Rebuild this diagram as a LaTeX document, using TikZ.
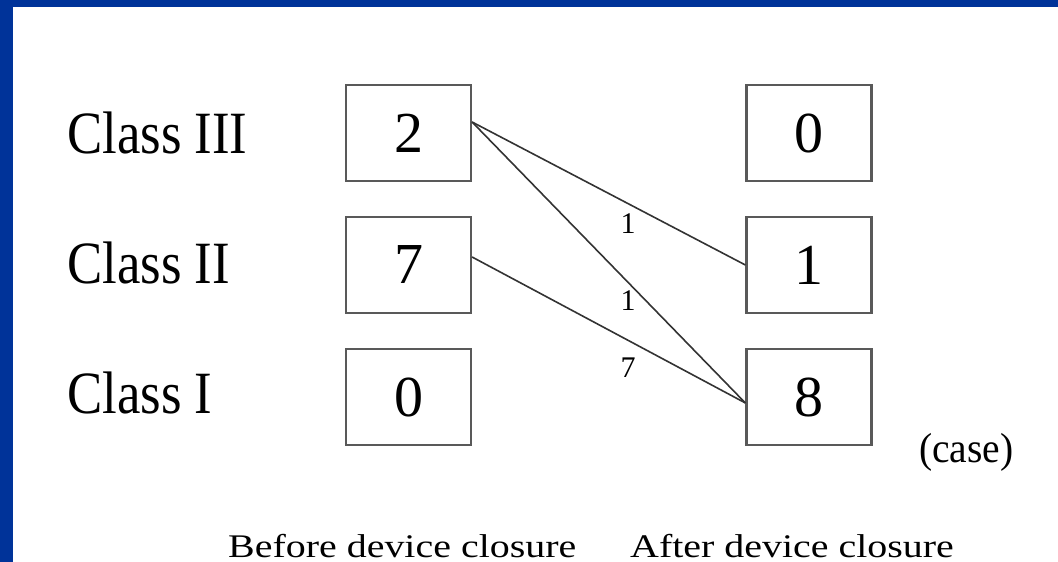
\documentclass[tikz,border=0pt]{standalone}
\usepackage{fontspec}
\setmainfont{Liberation Serif}
\definecolor{frameblue}{HTML}{003399}
\newcommand{\hsq}[2]{\scalebox{#1}[1]{#2}}
\begin{document}
\begin{tikzpicture}[x=1pt,y=-1pt,
  box/.style={draw=black!65, line width=2.2pt, minimum width=125pt, minimum height=96pt, inner sep=0pt, font=\fontsize{58}{60}\selectfont},
  cls/.style={anchor=base west, inner sep=0pt, font=\fontsize{60}{62}\selectfont},
  link/.style={draw=black!80, line width=1.6pt},
  lbl/.style={inner sep=0pt, font=\fontsize{30}{31}\selectfont},
  captext/.style={anchor=base west, inner sep=0pt, font=\fontsize{33}{36}\selectfont}]
\useasboundingbox (0,0) rectangle (1058,562);
\fill[frameblue] (0,0) rectangle (1058,7);
\fill[frameblue] (0,0) rectangle (13,562);

\node[cls] (c3) at (67,153) {\hsq{0.88}{Class III}};
\node[cls] (c2) at (67,283) {\hsq{0.88}{Class II}};
\node[cls] (c1) at (67,413) {\hsq{0.88}{Class I}};

\node[box] (b2) at (408.5,133) {2};
\node[box] (b7) at (408.5,265) {7};
\node[box] (b0) at (408.5,397) {0};
\node[box] (r0) at (809,133) {0};
\node[box] (r1) at (809,265) {1};
\node[box] (r8) at (809,397) {8};

\draw[link] ([yshift=11pt]b2.east) -- (r1.west);
\draw[link] ([yshift=11pt]b2.east) -- ([yshift=-6pt]r8.west);
\draw[link] ([yshift=8pt]b7.east) -- ([yshift=-6pt]r8.west);

\node[lbl] (l1) at (628,224) {1};
\node[lbl] (l2) at (628,301) {1};
\node[lbl] (l3) at (628,368) {7};

\node[anchor=base west, inner sep=0pt, font=\fontsize{42}{44}\selectfont] (case) at (919,462) {\hsq{0.94}{(case)}};
\node[captext] (before) at (228,557) {\hsq{1.21}{Before device closure}};
\node[captext] (after) at (630,557) {\hsq{1.21}{After device closure}};
\end{tikzpicture}
\end{document}
